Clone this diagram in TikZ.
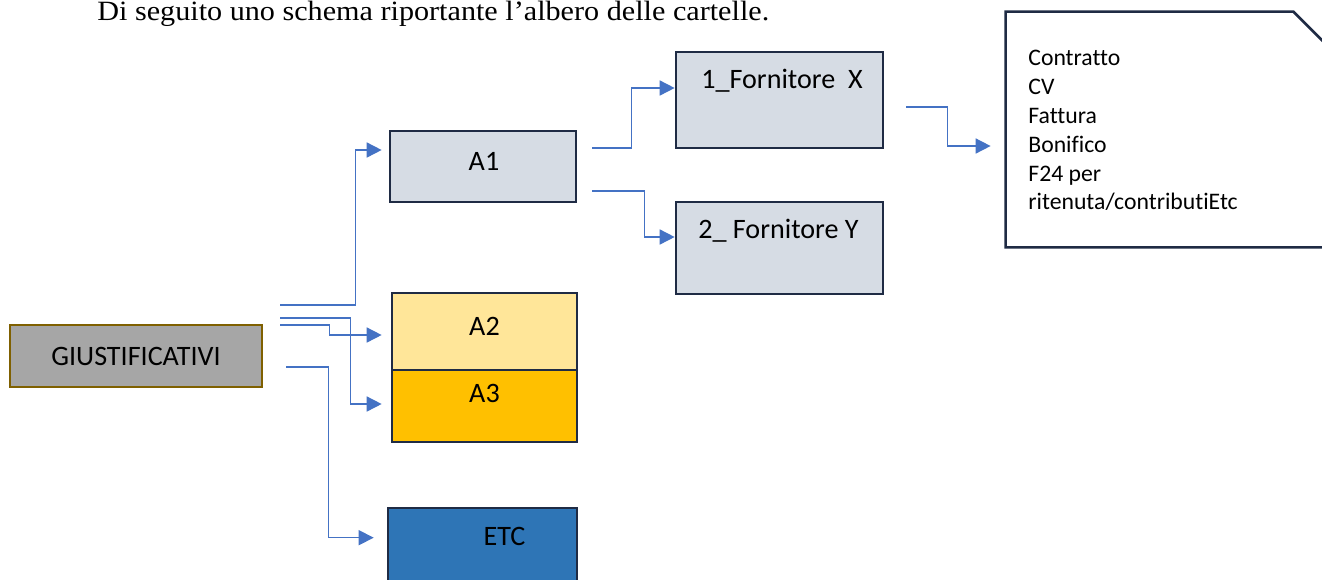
\documentclass[tikz,border=0pt]{standalone}
\usepackage{fontspec}
\setmainfont{Carlito}[Ligatures=NoCommon]
\newfontfamily\titlefont{Liberation Serif}
\usetikzlibrary{arrows.meta,calc}
\definecolor{linkblue}{HTML}{4472C4}
\definecolor{boxline}{HTML}{1F2B44}
\definecolor{grayfill}{HTML}{A6A6A6}
\definecolor{grayline}{HTML}{7F6000}
\definecolor{a1fill}{HTML}{D6DCE4}
\definecolor{a2fill}{HTML}{FFE699}
\definecolor{a3fill}{HTML}{FFC000}
\definecolor{etcfill}{HTML}{2E75B6}
\tikzset{
  boxnode/.style={draw=boxline, line width=1.5pt, inner sep=0pt},
  lbl/.style={font=\fontsize{16}{19}\selectfont, inner sep=0pt, text=black},
  conn/.style={draw=linkblue, line width=0.9pt, -{Triangle[length=0.3cm,width=0.3cm]}},
}
\begin{document}
\begin{tikzpicture}[x=0.02cm,y=-0.02cm]
\useasboundingbox (0,0) rectangle (1322,579);
\clip (0,0) rectangle (1322,579);

% title
\node[anchor=base west, inner sep=0pt] (title) at (97,20.5)
  {\scalebox{1.08}[1]{\titlefont\fontsize{15.9}{19}\selectfont Di seguito uno schema riportante l’albero delle cartelle.}};

% boxes
\node[boxnode, draw=grayline, line width=1.3pt, fill=grayfill, minimum width=252*0.02cm, minimum height=62*0.02cm, font=\fontsize{16}{19}\selectfont] (g) at (136,356) {GIUSTIFICATIVI};
\node[boxnode, fill=a1fill, minimum width=186*0.02cm, minimum height=71*0.02cm] (a1) at (483,166.5) {};
\node[boxnode, fill=a2fill, minimum width=185*0.02cm, minimum height=77*0.02cm] (a2) at (484.5,331.5) {};
\node[boxnode, fill=a3fill, minimum width=185*0.02cm, minimum height=72*0.02cm] (a3) at (484.5,406) {};
\node[boxnode, fill=etcfill, minimum width=189*0.02cm, minimum height=102*0.02cm] (etc) at (482.5,559) {};
\node[boxnode, fill=a1fill, minimum width=207*0.02cm, minimum height=96*0.02cm] (f1) at (779.5,100) {};
\node[boxnode, fill=a1fill, minimum width=207*0.02cm, minimum height=92*0.02cm] (f2) at (779.5,248) {};

% box labels
\node[lbl] (a1t) at ($(a1.north)+(1,32)$) {A1};
\node[lbl] (a2t) at ($(a2.north)+(0,35)$) {A2};
\node[lbl] (a3t) at ($(a3.north)+(0,25)$) {A3};
\node[lbl] (etct) at ($(etc.north)+(22,30)$) {ETC};
\node[lbl] (f1t) at ($(f1.north)+(2.5,30.5)$) {1\_Fornitore\ \ X};
\node[lbl] (f2t) at ($(f2.north)+(-1,30.5)$) {2\_ Fornitore Y};

% note with cut corner
\node[inner sep=0pt, minimum width=334*0.02cm, minimum height=235*0.02cm] (note) at (1173,129.5) {};
\draw[draw=boxline, line width=1.5pt, fill=white]
  (note.north west) -- ($(note.north east)+(-47,0)$) -- ($(note.north east)+(0,47)$)
  -- (note.south east) -- (note.south west) -- cycle;
\node[anchor=north west, inner sep=0pt, align=left, font=\fontsize{13.5}{16.4}\selectfont] (notet) at (1028,50)
  {Contratto\\CV\\Fattura\\Bonifico\\F24 per\\ritenuta/contributiEtc};

% connectors
\draw[conn] ($(g.east)+(17,-51)$) -| ($(a1.west)+(-33,-16.5)$) -- ($(a1.west)+(-7,-16.5)$);
\draw[conn] ($(g.east)+(17,-31)$) -| ($(a2.west)+(-61,3.5)$) -- ($(a2.west)+(-9,3.5)$);
\draw[conn] ($(g.east)+(17,-38)$) -| ($(a3.west)+(-40,-2)$) -- ($(a3.west)+(-9,-2)$);
\draw[conn] ($(g.east)+(23,11)$) -| ($(etc.north west)+(-58,31)$) -- ($(etc.north west)+(-13,31)$);
\draw[conn] ($(a1.east)+(15,-18.5)$) -| ($(f1.west)+(-43,-12)$) -- ($(f1.west)+(0,-12)$);
\draw[conn] ($(a1.east)+(15,24.5)$) -| ($(f2.west)+(-30,-11)$) -- ($(f2.west)+(0,-11)$);
\draw[conn] ($(f1.east)+(22,7)$) -| ($(note.west)+(-58,16.5)$) -- ($(note.west)+(-15,16.5)$);
\end{tikzpicture}
\end{document}
